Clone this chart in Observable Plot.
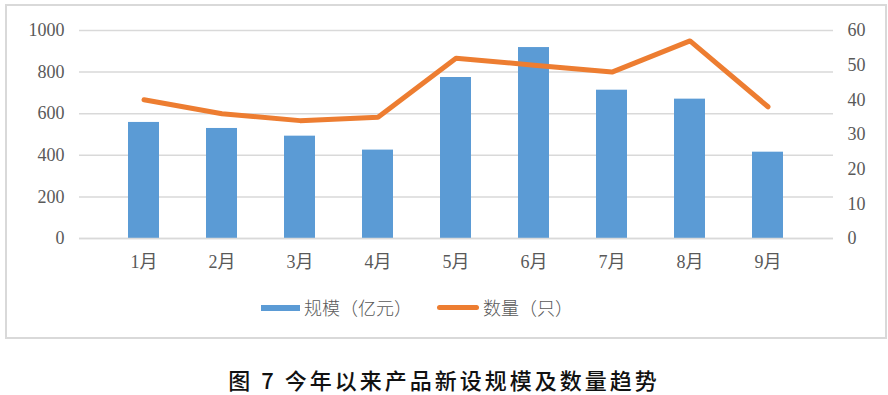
<!DOCTYPE html>
<html><head><meta charset="utf-8">
<script src="https://cdn.jsdelivr.net/npm/d3@7"></script>
<script src="https://cdn.jsdelivr.net/npm/@observablehq/plot@0.6"></script>
<style>
body{margin:0;background:#fff;width:888px;height:395px;overflow:hidden;font-family:"Liberation Serif","Noto Sans CJK SC",serif;}
#frame{position:absolute;left:5px;top:4px;width:878px;height:331px;border:2px solid #d9d9d9;box-sizing:content-box;}
#chart{position:absolute;left:0;top:0;}
#chart svg text{font-family:"Liberation Serif","Noto Sans CJK SC",serif !important;font-size:18px;}
#legend{position:absolute;top:294px;left:0;width:888px;height:26px;font-size:18px;color:#595959;}
.sw{position:absolute;top:11px;height:6px;}
.lt{position:absolute;top:0;line-height:26px;font-family:"Noto Sans CJK SC",sans-serif;font-weight:300;}
#title{position:absolute;top:363px;left:0;width:888px;text-align:center;font-size:22px;letter-spacing:3px;color:#111;font-family:"Noto Sans CJK SC",sans-serif;font-weight:500;}
</style></head>
<body>
<div id="frame"></div>
<div id="chart"></div>
<div id="legend">
  <div class="sw" style="left:261px;width:39px;background:#5B9BD5"></div>
  <div class="lt" style="left:304px">规模（亿元）</div>
  <div class="sw" style="left:437px;width:42px;height:5px;background:#ED7D31;border-radius:3px"></div>
  <div class="lt" style="left:483px">数量（只）</div>
</div>
<div id="title">图 7 今年以来产品新设规模及数量趋势</div>
<script>
const months = ["1月","2月","3月","4月","5月","6月","7月","8月","9月"];
const scale = [558, 529, 492, 425, 774, 918, 713, 670, 415];   // 规模（亿元）
const counts = [40, 36, 34, 35, 52, 50, 48, 57, 38];          // 数量（只）
const leftTicks = [0, 200, 400, 600, 800, 1000];
const rightTicks = [0, 10, 20, 30, 40, 50, 60];
const leftMax = 1000, rightMax = 60;
const k = leftMax / rightMax;

const bars = months.map((m, i) => ({month: m, value: scale[i]}));
const pts = months.map((m, i) => ({month: m, value: counts[i] * k}));

const chart = Plot.plot({
  width: 888, height: 280,
  marginLeft: 79, marginRight: 55, marginTop: 30, marginBottom: 42,
  style: {fontSize: "18px", color: "#595959", background: "transparent"},
  x: {domain: months, padding: 0.6, label: null},
  y: {domain: [0, leftMax], label: null},
  marks: [
    Plot.gridY(leftTicks, {stroke: "#d9d9d9", strokeOpacity: 1, strokeWidth: 1.5}),
    Plot.barY(bars, {x: "month", y: "value", fill: "#5B9BD5"}),
    Plot.ruleY([0], {stroke: "#d9d9d9", strokeWidth: 1.5}),
    Plot.lineY(pts, {x: "month", y: "value", stroke: "#ED7D31", strokeWidth: 5, strokeLinejoin: "round", strokeLinecap: "round"}),
    Plot.axisY(leftTicks, {anchor: "left", tickSize: 0, tickPadding: 15, label: null, fill: "#595959", tickFormat: d => String(d)}),
    Plot.axisY(rightTicks.map(v => v * k), {anchor: "right", tickSize: 0, tickPadding: 14, label: null, fill: "#595959", textAnchor: "start", tickFormat: d => String(Math.round(d / k))}),
    Plot.axisX({tickSize: 0, tickPadding: 17, label: null, fill: "#595959"})
  ]
});
document.getElementById("chart").appendChild(chart);
</script>
</body></html>
